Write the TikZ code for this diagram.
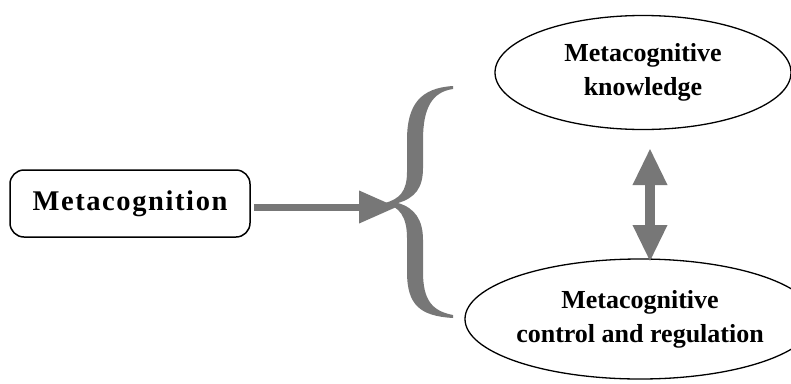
\documentclass[tikz,border=0pt]{standalone}
\usepackage{fontspec}
\setmainfont{Liberation Serif}
\usetikzlibrary{shapes.geometric,arrows.meta}
\definecolor{arrowgray}{HTML}{777777}
\newcommand{\sk}{\kern1.6pt}
\tikzset{
  boxnode/.style={draw=black, line width=1.5pt, rounded corners=14pt, minimum width=240pt, minimum height=67pt, font=\bfseries\fontsize{28.5}{32}\selectfont, align=center},
  ellnode/.style={draw=black, line width=1.3pt, ellipse, minimum width=296pt, minimum height=114pt, font=\bfseries\fontsize{26}{34}\selectfont, align=center, inner sep=0pt},
  fatarrow/.style={draw=arrowgray, line width=7pt, -{Triangle[length=38pt,width=31pt]}},
  dblarrow/.style={draw=arrowgray, line width=10pt, {Triangle[length=37pt,width=32pt]}-{Triangle[length=37pt,width=32pt]}}
}
\begin{document}
\begin{tikzpicture}[x=1pt,y=-1pt]
\useasboundingbox (0,0) rectangle (791,383);
\node[boxnode] (meta) at (130,203.5) {M\sk e\sk t\sk a\sk c\sk o\sk g\sk n\sk i\sk t\sk i\sk o\sk n};
\node[ellnode] (know) at (643,72.5) {Metacognitive\\knowledge};
\node[ellnode, minimum width=300pt, minimum height=120pt] (ctrl) at (640,319) {Metacognitive\\control and regulation};
\coordinate (btip) at (397,207);
\draw[fatarrow] ([xshift=3pt]meta.east |- btip) -- (btip);
\fill[arrowgray] (453,86) .. controls (420,88) and (407,105) .. (407,140) -- (407,172)
  .. controls (407,192) and (399,199) .. (385,203)
  .. controls (399,207) and (407,216) .. (407,238) -- (407,272)
  .. controls (407,305) and (420,316) .. (453,318)
  -- (453,315) .. controls (432,311) and (423,300) .. (423,272) -- (423,240)
  .. controls (423,220) and (415,208) .. (398,203)
  .. controls (415,198) and (423,188) .. (423,168) -- (423,140)
  .. controls (423,108) and (432,92) .. (453,89) -- cycle;
\coordinate (dtop) at (650,148);
\coordinate (dbot) at (650,262);
\draw[dblarrow] (dtop) -- (dbot);
\end{tikzpicture}
\end{document}
